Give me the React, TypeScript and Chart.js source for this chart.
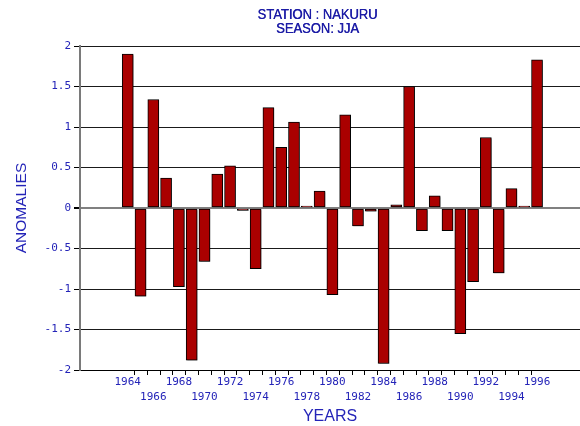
import React, { useEffect, useRef } from 'react';
import { Chart, registerables } from 'chart.js';

Chart.register(...registerables);

// ---- data ----
const years = [
  1964, 1965, 1966, 1967, 1968, 1969, 1970, 1971, 1972, 1973, 1974,
  1975, 1976, 1977, 1978, 1979, 1980, 1981, 1982, 1983, 1984, 1985,
  1986, 1987, 1988, 1989, 1990, 1991, 1992, 1993, 1994, 1995, 1996,
];
const anomalies = [
  1.9, -1.09, 1.34, 0.37, -0.97, -1.88, -0.66, 0.42, 0.52, -0.03, -0.75,
  1.24, 0.75, 1.06, 0.025, 0.21, -1.07, 1.15, -0.22, -0.04, -1.92, 0.04,
  1.5, -0.28, 0.15, -0.28, -1.55, -0.91, 0.87, -0.8, 0.24, 0.025, 1.83,
];
const xTickYears = [
  1964, 1966, 1968, 1970, 1972, 1974, 1976, 1978, 1980, 1982, 1984,
  1986, 1988, 1990, 1992, 1994, 1996,
];
const yTickValues = [-2, -1.5, -1, -0.5, 0, 0.5, 1, 1.5, 2];
const titleLines = ['STATION : NAKURU', 'SEASON: JJA'];
const xAxisTitle = 'YEARS';
const yAxisTitle = 'ANOMALIES';
const xMin = 1960.27;
const xMax = 1999.36;

const BLUE = '#2424b8';
const TITLE_BLUE = '#1c1ca6';

const titlePlugin = {
  id: 'stationTitle',
  afterDraw(chart: any) {
    const { ctx } = chart;
    ctx.save();
    ctx.fillStyle = TITLE_BLUE;
    ctx.font = '14px "Liberation Sans", Arial, sans-serif';
    ctx.textAlign = 'center';
    ctx.textBaseline = 'middle';
    const w = ctx.measureText(titleLines[0]).width;
    const sx = 120 / w;
    const cx = 317.5;
    ctx.translate(cx, 0);
    ctx.scale(sx, 1);
    ctx.fillText(titleLines[0], 0, 15.5);
    ctx.fillText(titleLines[1], 0, 29.5);
    // slight emboldening like the reference
    ctx.fillText(titleLines[0], 0.4, 15.5);
    ctx.fillText(titleLines[1], 0.4, 29.5);
    ctx.restore();
  },
};

const xTickMarksPlugin = {
  id: 'xTickMarks',
  afterDraw(chart: any) {
    const { ctx, chartArea } = chart;
    const xs = chart.scales.x;
    ctx.save();
    ctx.strokeStyle = '#000';
    ctx.lineWidth = 1;
    ctx.beginPath();
    for (let i = 0; i < years.length - 1; i++) {
      const px = Math.round(xs.getPixelForValue(years[i] + 0.5)) + 0.5;
      ctx.moveTo(px, chartArea.bottom);
      ctx.lineTo(px, chartArea.bottom + 5);
    }
    ctx.stroke();
    ctx.restore();
  },
};

const shadowPlugin = {
  id: 'barShadow',
  beforeDatasetsDraw(chart: any) {
    const ctx = chart.ctx;
    ctx.save();
    ctx.shadowColor = 'rgba(0,0,0,0.3)';
    ctx.shadowOffsetX = 1;
    ctx.shadowOffsetY = 1;
    ctx.shadowBlur = 0;
  },
  afterDatasetsDraw(chart: any) {
    chart.ctx.restore();
  },
};

export default function App() {
  const canvasRef = useRef<HTMLCanvasElement | null>(null);

  useEffect(() => {
    const canvas = canvasRef.current;
    if (!canvas) return;
    const chart = new Chart(canvas, {
      type: 'bar',
      data: {
        datasets: [
          {
            data: years.map((y, i) => ({ x: y, y: anomalies[i] })),
            backgroundColor: '#aa0000',
            borderColor: '#000000',
            borderWidth: 1,
            borderSkipped: false,
            barThickness: 11,
          },
        ],
      },
      plugins: [shadowPlugin, titlePlugin, xTickMarksPlugin],
      options: {
        responsive: false,
        animation: false,
        devicePixelRatio: 1,
        layout: { padding: { top: 46, left: 0, right: 0, bottom: 0 } },
        plugins: {
          legend: { display: false },
          tooltip: { enabled: false },
          title: { display: false },
        },
        scales: {
          x: {
            type: 'linear',
            min: xMin,
            max: xMax,
            offset: false,
            afterFit: (s: any) => {
              s.height = 56;
            },
            afterBuildTicks: (s: any) => {
              s.ticks = xTickYears.map((v) => ({ value: v }));
            },
            grid: { display: false, drawTicks: false, tickLength: 0 },
            border: { display: true, color: '#000000', width: 1 },
            ticks: {
              autoSkip: false,
              maxRotation: 0,
              minRotation: 0,
              padding: 5,
              color: BLUE,
              font: { family: '"DejaVu Sans Mono", monospace', size: 11, lineHeight: 1.33 },
              callback: (v: any) => {
                const idx = xTickYears.indexOf(Number(v));
                if (idx < 0) return '';
                return idx % 2 === 0 ? String(v) : ['', String(v)];
              },
            },
            title: {
              display: true,
              text: xAxisTitle,
              color: BLUE,
              font: { family: '"Liberation Sans", Arial, sans-serif', size: 16, lineHeight: 1.2 },
              padding: { top: 0, bottom: 0 },
            },
          },
          y: {
            type: 'linear',
            min: -2,
            max: 2,
            afterFit: (s: any) => {
              s.width = 80;
            },
            afterBuildTicks: (s: any) => {
              s.ticks = yTickValues.map((v) => ({ value: v }));
            },
            grid: {
              display: true,
              drawTicks: true,
              tickLength: 6,
              tickColor: '#000000',
              color: (c: any) => (c.tick && c.tick.value === 0 ? '#808080' : '#1a1a1a'),
              lineWidth: (c: any) => (c.tick && c.tick.value === 0 ? 2 : 1),
            },
            border: { display: true, color: '#7a7a7a', width: 2 },
            ticks: {
              padding: 3,
              color: BLUE,
              font: { family: '"DejaVu Sans Mono", monospace', size: 11 },
              callback: (v: any) => String(v),
            },
            title: {
              display: true,
              text: yAxisTitle,
              color: BLUE,
              font: { family: '"Liberation Sans", Arial, sans-serif', size: 15.5, lineHeight: 1.2 },
              padding: { top: 12, bottom: 0 },
            },
          },
        },
      },
    } as any);
    return () => chart.destroy();
  }, []);

  return (
    <div style={{ position: 'fixed', left: 0, top: 0, width: 580, height: 426, background: '#ffffff' }}>
      <canvas ref={canvasRef} width={580} height={426} style={{ display: 'block' }} />
    </div>
  );
}
